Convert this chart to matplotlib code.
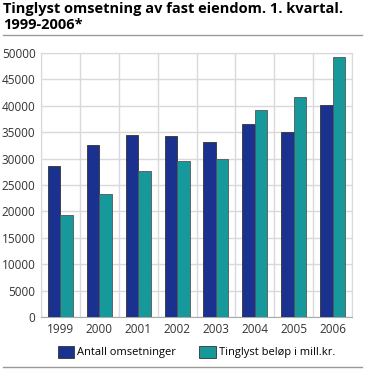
import matplotlib
matplotlib.use("Agg")
import matplotlib.pyplot as plt
from matplotlib.patches import Rectangle
from matplotlib.lines import Line2D
import numpy as np

years = ["1999", "2000", "2001", "2002", "2003", "2004", "2005", "2006"]
antall = [28600, 32500, 34400, 34350, 33150, 36500, 35100, 40100]
belop = [19400, 23350, 27650, 29550, 29850, 39200, 41650, 49300]
series_labels = ["Antall omsetninger", "Tinglyst beløp i mill.kr."]
colors = ["#1a318f", "#17989a"]
title = "Tinglyst omsetning av fast eiendom. 1. kvartal.\n1999-2006*"

plt.rcParams['font.family'] = ['Open Sans', 'DejaVu Sans']

W, H = 365, 369
fig = plt.figure(figsize=(W / 100, H / 100), dpi=100)
ax = fig.add_axes([41 / W, 1 - 317 / H, (352 - 41) / W, (317 - 53) / H])

x = np.arange(len(years))
bw = 0.32
ax.bar(x - bw / 2, antall, bw, color=colors[0], edgecolor="#333333", linewidth=0.6, zorder=3)
ax.bar(x + bw / 2, belop, bw, color=colors[1], edgecolor="#555555", linewidth=0.6, zorder=3)

ax.set_xlim(-0.5, len(years) - 0.5)
ax.set_ylim(0, 50000)
ax.set_yticks(np.arange(0, 50001, 5000))
ax.set_xticks(x)
ax.set_xticklabels(years)
ax.set_xticks(np.arange(-0.5, len(years), 1), minor=True)
ax.grid(axis="y", which="major", color="#d9d9d9", linewidth=1, zorder=0)
ax.grid(axis="x", which="minor", color="#d9d9d9", linewidth=1, zorder=0)
ax.tick_params(axis="both", which="both", length=0, labelsize=8.5, colors="#333333")
ax.tick_params(axis="x", pad=4)
ax.tick_params(axis="y", pad=4)
for s in ["top", "right", "left"]:
    ax.spines[s].set_color("#d9d9d9")
ax.spines["bottom"].set_color("#aaaaaa")

fig.text(3 / W, 1 - 2 / H, title, fontsize=10.5, fontweight="bold", va="top", ha="left",
         color="#000000", linespacing=1.15)
fig.add_artist(Line2D([3 / W, 362 / W], [1 - 35 / H, 1 - 35 / H], color="#999999", linewidth=1))
fig.add_artist(Line2D([3 / W, 362 / W], [1 - 367 / H, 1 - 367 / H], color="#999999", linewidth=1))

handles = [Rectangle((0, 0), 1, 1, facecolor=c, edgecolor="#333333", linewidth=0.6) for c in colors]
fig.legend(handles, series_labels, loc="center", bbox_to_anchor=(196.5 / W, 1 - 352 / H), ncol=2,
           frameon=False, fontsize=8, handlelength=1.5, handleheight=1.35, handletextpad=0.27,
           columnspacing=2.05, borderaxespad=0, borderpad=0)

fig.savefig("out.png", dpi=100)
